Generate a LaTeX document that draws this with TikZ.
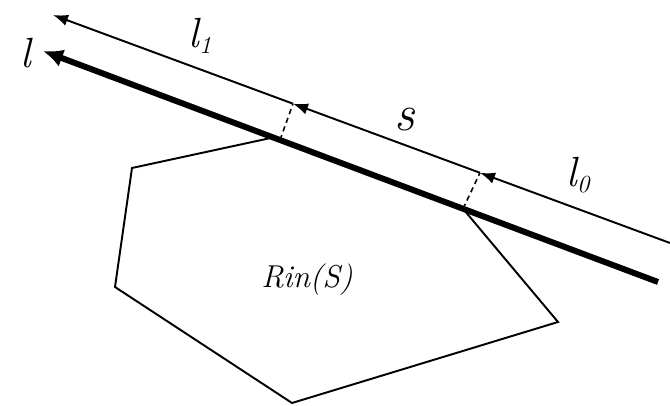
\documentclass[tikz,border=0pt]{standalone}
\usetikzlibrary{arrows.meta}
\newcommand{\lsub}[1]{l\raisebox{-3.4pt}{\fontsize{14}{14}\selectfont #1}}
\begin{document}
\begin{tikzpicture}[>={Latex[length=3mm,width=2.3mm]},
  rim/.style={line width=1.1pt},
  ray/.style={line width=3.4pt,-{Latex[length=4mm,width=3.6mm]}},
  gap/.style={line width=0.9pt,dash pattern=on 3pt off 2.2pt},
  tag/.style={font=\fontsize{24}{26}\selectfont\itshape}]
\useasboundingbox (0,0) rectangle (13.4,8.12);
\coordinate (a0) at (13.4,3.26);
\coordinate (a1) at (9.6,4.664);
\coordinate (a2) at (5.86,6.046);
\coordinate (a3) at (1.06,7.82);
\coordinate (b0) at (13.16,2.48);
\coordinate (b1) at (0.86,7.10);
\coordinate (p1) at (5.46,5.37);
\coordinate (p2) at (9.26,3.945);
\coordinate (q1) at (2.64,4.76);
\coordinate (q2) at (2.30,2.38);
\coordinate (q3) at (5.84,0.06);
\coordinate (q4) at (11.16,1.68);
\coordinate (d1) at (5.6,5.32);
\draw[rim,line join=miter] (p1) -- (q1) -- (q2) -- (q3) -- (q4) -- (p2);
\draw[ray] (b0) -- (b1);
\draw[rim,->] (a0) -- (a1);
\draw[rim,->] (a1) -- (a2);
\draw[rim,->] (a2) -- (a3);
\draw[gap] (d1) -- (a2);
\draw[gap] (p2) -- (a1);
\node[tag] (l) at (0.52,7.06) {l};
\node[tag] (l1) at (4.0,7.4) {\lsub{1}};
\node[tag,font=\fontsize{29}{30}\selectfont\itshape] (s) at (8.1,5.72) {s};
\node[tag] (l0) at (11.56,4.62) {\lsub{0}};
\node[tag,font=\fontsize{18}{20}\selectfont\itshape] (rin) at (6.14,2.52) {Rin(S)};
\end{tikzpicture}
\end{document}
